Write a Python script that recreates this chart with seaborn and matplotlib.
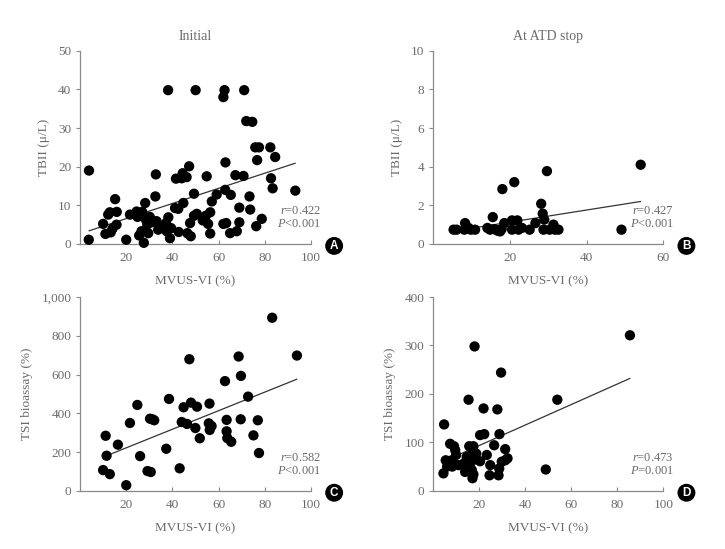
"""Four-panel scatter: MVUS-VI vs TBII / TSI bioassay, initial and at ATD stop."""

import matplotlib
matplotlib.use("Agg")
import matplotlib.pyplot as plt
import pandas as pd
import seaborn as sns

# Panel A -- initial, TBII
a_x = [3.9, 4.0, 10.1, 11.1, 12.3, 13.0, 13.4, 14.2, 15.3, 15.9, 16.0, 20.1, 21.7, 24.6, 25.0,
       25.7, 27.0, 26.7, 27.7, 28.3, 28.6, 29.2, 29.6, 30.3, 31.0, 32.7, 32.9, 33.2, 33.9, 36.1,
       37.3, 38.2, 38.3, 37.6, 39.0, 39.5, 41.2, 41.6, 42.6, 42.8, 44.1, 44.8, 44.5, 46.2, 46.5,
       47.3, 47.7, 48.0, 49.4, 49.4, 50.1, 50.6, 53.2, 54.5, 54.9, 55.5, 56.4, 56.4, 57.1, 59.2,
       62.1, 62.1, 62.6, 63.0, 62.9, 63.3, 65.3, 65.0, 67.3, 67.9, 69.0, 69.0, 70.8, 71.1, 72.0,
       73.4, 73.7, 74.6, 75.9, 76.3, 76.7, 77.5, 78.7, 82.4, 82.7, 83.4, 84.5, 93.2]
a_y = [1.1, 19.0, 5.2, 2.6, 7.6, 8.2, 3.0, 4.0, 11.6, 5.0, 8.3, 1.1, 7.6, 8.4, 7.0,
       2.2, 8.3, 3.3, 0.3, 10.6, 6.3, 5.0, 2.8, 7.0, 5.6, 12.3, 18.0, 5.9, 3.7, 4.6,
       5.4, 39.8, 6.9, 3.3, 1.5, 4.1, 9.3, 16.9, 9.1, 3.1, 17.0, 10.6, 18.3, 17.3, 2.8,
       20.1, 5.4, 2.0, 13.0, 7.3, 39.8, 7.8, 6.1, 7.3, 17.5, 5.2, 8.2, 2.7, 11.0, 12.8,
       5.2, 38.0, 39.8, 21.1, 14.0, 5.4, 12.7, 2.8, 17.8, 3.3, 9.4, 5.6, 17.6, 39.8, 31.8,
       12.3, 8.9, 31.6, 25.0, 4.6, 21.7, 25.0, 6.5, 25.0, 17.0, 14.4, 22.5, 13.8]
a_fit_x = [4.0, 93.2]
a_fit_y = [3.4, 20.9]

# Panel B -- at ATD stop, TBII
b_x = [5.4, 6.2, 8.4, 8.2, 9.3, 9.9, 11.0, 14.2, 14.9, 15.6, 16.0, 16.8, 17.5, 18.1, 17.9,
       18.6, 20.6, 20.6, 21.2, 22.0, 22.3, 23.2, 25.2, 26.7, 28.2, 28.6, 29.0, 28.8, 29.7,
       30.4, 31.4, 31.8, 32.7, 49.1, 54.1]
b_y = [0.74, 0.74, 1.08, 0.74, 0.83, 0.74, 0.74, 0.83, 0.74, 1.39, 0.77, 0.69, 0.65, 2.84, 0.77,
       1.08, 0.74, 1.22, 3.20, 1.22, 0.74, 0.83, 0.74, 1.08, 2.08, 1.57, 1.26, 0.74, 3.77,
       0.74, 1.0, 0.74, 0.74, 0.74, 4.1]
b_fit_x = [8.0, 54.1]
b_fit_y = [0.75, 2.2]

# Panel C -- initial, TSI bioassay
c_x = [10.1, 11.2, 11.6, 13.0, 16.5, 20.1, 21.7, 24.9, 26.1, 29.3, 30.7, 30.4, 31.4, 32.2,
       37.4, 38.6, 43.2, 44.1, 44.9, 46.4, 47.4, 48.1, 50.0, 50.7, 51.9, 55.8, 56.1, 56.2,
       57.0, 62.8, 63.5, 63.5, 63.8, 65.5, 68.7, 69.6, 69.7, 72.8, 75.1, 77.0, 77.5, 83.2, 93.9]
c_y = [107, 284, 181, 86, 238, 29, 350, 443, 179, 102, 97, 372, 369, 364,
       217, 474, 116, 355, 431, 345, 679, 455, 324, 434, 271, 348, 450, 314,
       334, 566, 366, 307, 272, 253, 693, 369, 593, 486, 286, 364, 195, 893, 698]
c_fit_x = [11.6, 93.9]
c_fit_y = [181, 576]

# Panel D -- at ATD stop, TSI bioassay
d_x = [4.6, 4.9, 5.6, 6.2, 7.5, 8.2, 8.4, 9.2, 9.7, 10.1, 11.1, 13.6, 14.0, 14.7, 15.5,
       15.8, 16.2, 16.6, 16.9, 17.3, 17.6, 17.6, 17.2, 18.1, 18.8, 20.5, 20.5, 22.3, 22.0,
       23.4, 24.6, 24.9, 26.6, 28.0, 28.5, 28.8, 28.9, 29.6, 29.9, 31.4, 31.4, 32.4, 49.0,
       54.0, 85.5]
d_y = [36, 137, 63, 50, 97, 63, 50, 92, 84, 74, 53, 57, 39, 70, 188,
       92, 57, 74, 43, 63, 92, 34, 26, 298, 77, 61, 115, 117, 170,
       74, 32, 53, 94, 168, 32, 46, 117, 244, 60, 86, 63, 67, 44,
       188, 321]
d_fit_x = [10.0, 85.5]
d_fit_y = [72, 232]

TEXT = "#6b6b6b"
SPINE = "#8a8a8a"

sns.set_theme(style="ticks")
plt.rcParams["font.family"] = ["Liberation Serif", "DejaVu Serif"]
plt.rcParams.update({
    "mathtext.fontset": "custom",
    "mathtext.rm": "Liberation Serif",
    "mathtext.it": "Liberation Serif:italic",
    "text.color": TEXT,
    "axes.labelcolor": TEXT,
    "xtick.color": SPINE,
    "ytick.color": SPINE,
    "xtick.labelcolor": TEXT,
    "ytick.labelcolor": TEXT,
    "axes.edgecolor": SPINE,
    "font.size": 9.5,
})

fig = plt.figure(figsize=(7.25, 5.49), dpi=100)

panels = [
    # rect, x, y, fit_x, fit_y, xlim, xticks, ylim, yticks, ylabel, title, r, p, letter
    ([0.110, 0.5556, 0.319, 0.352], a_x, a_y, a_fit_x, a_fit_y, 100, [20, 40, 60, 80, 100],
     50, [0, 10, 20, 30, 40, 50], "TBII (\u03bc/L)", "Initial", "0.422", "<0.001", "A"),
    ([0.597, 0.5556, 0.318, 0.352], b_x, b_y, b_fit_x, b_fit_y, 60, [20, 40, 60],
     10, [0, 2, 4, 6, 8, 10], "TBII (\u03bc/L)", "At ATD stop", "0.427", "<0.001", "B"),
    ([0.110, 0.106, 0.319, 0.353], c_x, c_y, c_fit_x, c_fit_y, 100, [20, 40, 60, 80, 100],
     1000, [0, 200, 400, 600, 800, 1000], "TSI bioassay (%)", None, "0.582", "<0.001", "C"),
    ([0.597, 0.106, 0.318, 0.353], d_x, d_y, d_fit_x, d_fit_y, 100, [20, 40, 60, 80, 100],
     400, [0, 100, 200, 300, 400], "TSI bioassay (%)", None, "0.473", "=0.001", "D"),
]

for rect, xs, ys, fx, fy, xmax, xticks, ymax, yticks, ylabel, title, r_val, p_val, letter in panels:
    ax = fig.add_axes(rect)
    pts = pd.DataFrame({"x": xs, "y": ys})
    fit = pd.DataFrame({"x": fx, "y": fy})
    sns.lineplot(data=fit, x="x", y="y", color="#333333", linewidth=0.9, ax=ax, zorder=2)
    sns.scatterplot(data=pts, x="x", y="y", color="black", s=55, edgecolor="none", ax=ax,
                    zorder=3, clip_on=False)
    ax.set_xlim(0, xmax)
    ax.set_ylim(0, ymax)
    ax.set_xticks(xticks)
    ax.set_yticks(yticks)
    ax.set_yticklabels([f"{t:,}" for t in yticks])
    ax.tick_params(axis="x", direction="in", length=3, width=0.8, labelsize=9.5, pad=6)
    ax.tick_params(axis="y", direction="out", length=3, width=0.8, labelsize=9.5, pad=3)
    for side in ("top", "right"):
        ax.spines[side].set_visible(False)
    for side in ("left", "bottom"):
        ax.spines[side].set_linewidth(0.9)
    ax.set_xlabel("MVUS-VI (%)", fontsize=9.5, labelpad=8)
    ax.set_ylabel(ylabel, fontsize=9.5, labelpad=6)
    if title:
        ax.set_title(title, fontsize=10, color=TEXT, pad=8)
    ax.text(1.045, 0.17, f"$r$={r_val}", transform=ax.transAxes, ha="right", va="center", fontsize=9)
    ax.text(1.045, 0.104, f"$P${p_val}", transform=ax.transAxes, ha="right", va="center", fontsize=9)
    ax.text(1.10, -0.01, letter, transform=ax.transAxes, ha="center", va="center", fontsize=8.5,
            fontweight="bold", color="white", family=["Liberation Sans", "DejaVu Sans"],
            bbox=dict(boxstyle="circle,pad=0.25", facecolor="black", edgecolor="none"))

fig.savefig("out.png", dpi=100)
